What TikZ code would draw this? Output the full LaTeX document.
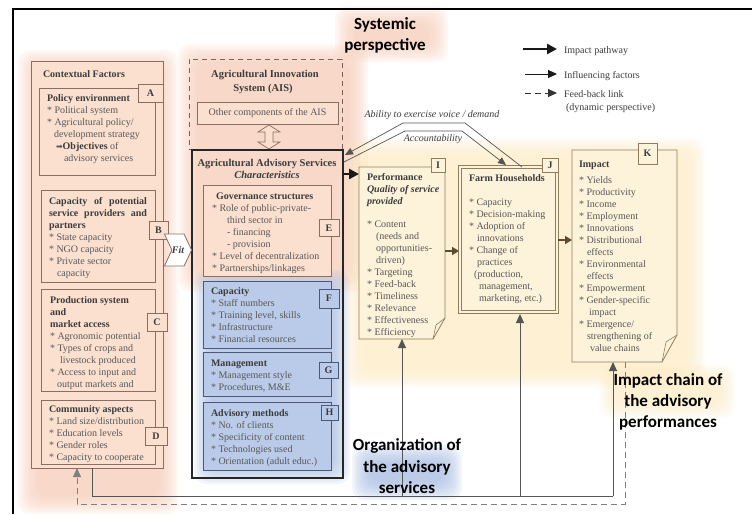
\documentclass[tikz,border=0pt]{standalone}
\usepackage{fontspec}
\setmainfont{Liberation Serif}
\newfontfamily\djv{DejaVu Sans}
\newfontfamily\calfont{Carlito}
\usetikzlibrary{calc,arrows.meta,shapes.symbols}
\definecolor{ctxFill}{HTML}{FBE0D0}
\definecolor{ctxLine}{HTML}{8A6E62}
\definecolor{orGlow}{HTML}{F8CDB6}
\definecolor{blFill}{HTML}{B9CBE8}
\definecolor{blLine}{HTML}{475A78}
\definecolor{blGlow}{HTML}{A3BAE2}
\definecolor{yeFill}{HTML}{FDF2DA}
\definecolor{yeLine}{HTML}{8F7E5E}
\definecolor{yeGlow}{HTML}{FDECC4}
\definecolor{txt}{HTML}{585858}
\definecolor{hd}{HTML}{3C3C3C}
\definecolor{brArrow}{HTML}{5E4B30}
\definecolor{lnGray}{HTML}{555555}
\newcommand{\glowbox}[5]{%
  \foreach \k in {0,...,7}{%
    \fill[#1, opacity=0.14, rounded corners=12pt] ($(#2,#3)+(\k*2.5,\k*2.5)$) rectangle ($(#4,#5)-(\k*2.5,\k*2.5)$);
  }}
\tikzset{
  zsep/.style={inner sep=0pt, outer sep=0pt},
  txtblock/.style={zsep, anchor=north west, align=left, text=txt, font=\fontsize{10}{12}\selectfont},
  hdtxt/.style={zsep, anchor=base, text=hd, font=\bfseries\fontsize{10.5}{12}\selectfont},
  ctxbox/.style={zsep, anchor=north west, draw=ctxLine, fill=ctxFill, line width=0.8pt},
  blbox/.style={zsep, anchor=north west, draw=blLine, fill=blFill, line width=0.8pt},
  tagbox/.style={zsep, line width=0.8pt, font=\bfseries\fontsize{10}{12}\selectfont, text=hd},
  bigtxt/.style={zsep, anchor=base, text=black, font=\calfont\bfseries\fontsize{17}{21}\selectfont},
  legtxt/.style={zsep, anchor=base west, text=hd, font=\fontsize{10}{12}\selectfont},
  impactarrow/.style={line width=2.6pt, black!90, -{Triangle[length=10pt,width=10pt]}},
  inflarrow/.style={line width=0.9pt, lnGray, -{Triangle[length=9pt,width=8pt]}},
  infline/.style={line width=0.9pt, lnGray},
  fbarrow/.style={line width=0.9pt, black!50, dash pattern=on 6pt off 4pt, -{Triangle[length=9pt,width=8pt]}},
  voicearrow/.style={line width=0.7pt, lnGray, -{Triangle[length=8pt,width=7pt]}},
  brarrow/.style={line width=2pt, brArrow, -{Triangle[length=7pt,width=8pt]}},
}
\begin{document}
\begin{tikzpicture}[x=1pt,y=-1pt]
\useasboundingbox (0,0) rectangle (752,514);
\fill[white] (0,0) rectangle (752,514);
% glows
\glowbox{orGlow}{18}{50}{178}{514}
\glowbox{orGlow}{178}{44}{368}{292}
\glowbox{orGlow}{335}{6}{448}{62}
\glowbox{blGlow}{194}{270}{350}{484}
\glowbox{blGlow}{352}{445}{462}{500}
\glowbox{yeGlow}{345}{138}{705}{388}
\glowbox{yeGlow}{600}{365}{735}{418}
% frame
\draw[line width=1.5pt] (13,514) -- (13,9) -- (752,9);

% ---------------- Contextual factors
\node[ctxbox, minimum width=132pt, minimum height=407pt] (ctx) at (31,61) {};
\node[hdtxt, anchor=base west, font=\bfseries\fontsize{10}{12}\selectfont] (ctxT) at (43,77) {Contextual Factors};

\node[ctxbox, minimum width=116pt, minimum height=87pt] (boxA) at (39,88) {};
\node[tagbox, draw=ctxLine, fill=ctxFill, minimum width=25pt, minimum height=18pt] (tagA) at (150.5,93) {A};
\node[txtblock] (Atxt) at (47,95) {\textbf{\color{hd}Policy environment}\\
* Political system\\
* Agricultural policy/\\
\hspace*{7pt}development strategy\\
\hspace*{9pt}{\djv\fontsize{8}{12}\selectfont ➡}\textbf{\color{hd}Objectives} of\\
\hspace*{17pt}advisory services};

\node[ctxbox, minimum width=114pt, minimum height=92pt] (boxB) at (41,190) {};
\node[tagbox, draw=ctxLine, fill=ctxFill, minimum width=19pt, minimum height=18pt] (tagB) at (158.5,230) {B};
\node[txtblock] (Btxt) at (49,197) {\textbf{\color{hd}\hbox to 98pt{Capacity\hfill of\hfill potential}}\\
\textbf{\color{hd}\hbox to 98pt{service\hfill providers\hfill and}}\\
\textbf{\color{hd}partners}\\
* State capacity\\
* NGO capacity\\
* Private sector\\
\hspace*{8pt}capacity};

\node[ctxbox, minimum width=114pt, minimum height=102pt] (boxC) at (41,289) {};
\node[tagbox, draw=ctxLine, fill=ctxFill, minimum width=20pt, minimum height=18pt] (tagC) at (157,322) {C};
\node[txtblock] (Ctxt) at (50,297) {\textbf{\color{hd}Production system}\\
\textbf{\color{hd}and}\\
\textbf{\color{hd}market access}\\
* Agronomic potential\\
* Types of crops and\\
\hspace*{10pt}livestock produced\\
* Access to input and\\
\hspace*{7pt}output markets and};

\node[ctxbox, minimum width=114pt, minimum height=64pt] (boxD) at (41,400) {};
\node[txtblock] (Dtxt) at (49,406) {\textbf{\color{hd}Community aspects}\\
* Land size/distribution\\
* Education levels\\
* Gender roles\\
* Capacity to cooperate};
\node[tagbox, draw=ctxLine, fill=ctxFill, minimum width=22pt, minimum height=18pt] (tagD) at (156,436) {D};

% ---------------- AIS
\node[zsep, anchor=north west, draw=ctxLine!90!black, dash pattern=on 5pt off 4pt, line width=0.8pt, minimum width=153pt, minimum height=90pt] (ais) at (189,59) {};
\node[hdtxt] (aisT1) at (265,77) {Agricultural Innovation};
\node[hdtxt] (aisT2) at (263,91) {System (AIS)};
\node[ctxbox, minimum width=141pt, minimum height=22pt, text=txt, font=\fontsize{10}{12}\selectfont] (other) at (197,102) {Other components of the AIS};
\draw[ctxLine, line width=0.7pt, fill=ctxFill] (269,125) -- (280,132) -- (273,132) -- (273,142) -- (280,142) -- (269,149) -- (258,142) -- (265,142) -- (265,132) -- (258,132) -- cycle;

% ---------------- AAS
\node[zsep, anchor=north west, draw=black!85, line width=1.6pt, minimum width=151pt, minimum height=328pt] (aas) at (192,150) {};
\node[hdtxt] (aasT1) at (267,166) {Agricultural Advisory Services};
\node[hdtxt] (aasT2) at (267,178) {\itshape Characteristics};

\node[ctxbox, minimum width=128pt, minimum height=91pt] (boxE) at (203,185) {};
\node[tagbox, draw=ctxLine, fill=ctxFill, minimum width=20pt, minimum height=17pt] (tagE) at (329,228) {E};
\node[txtblock] (Etxt) at (212,193) {\hspace*{4pt}\textbf{\color{hd}Governance structures}\\
* Role of public-private-\\
\hspace*{15pt}third sector in\\
\hspace*{15pt}- financing\\
\hspace*{15pt}- provision\\
* Level of decentralization\\
* Partnerships/linkages};

\node[blbox, minimum width=128pt, minimum height=67pt] (boxF) at (203,281) {};
\node[tagbox, draw=blLine, fill=blFill, minimum width=20pt, minimum height=19pt] (tagF) at (329,298.5) {F};
\node[txtblock] (Ftxt) at (211,288) {\textbf{\color{hd}Capacity}\\
* Staff numbers\\
* Training level, skills\\
* Infrastructure\\
* Financial resources};

\node[blbox, minimum width=128pt, minimum height=44pt] (boxG) at (203,352) {};
\node[tagbox, draw=blLine, fill=blFill, minimum width=19pt, minimum height=16pt] (tagG) at (328.5,370) {G};
\node[txtblock] (Gtxt) at (211,360) {\textbf{\color{hd}Management}\\
* Management style\\
* Procedures, M\&E};

\node[blbox, minimum width=128pt, minimum height=68pt] (boxH) at (203,402) {};
\node[tagbox, draw=blLine, fill=blFill, minimum width=17pt, minimum height=15pt] (tagH) at (329.5,412.5) {H};
\node[txtblock] (Htxt) at (211,410) {\textbf{\color{hd}Advisory methods}\\
* No. of clients\\
* Specificity of content\\
* Technologies used\\
* Orientation (adult educ.)};

% Fit
\node[zsep, signal, signal to=east, signal from=west, signal pointer angle=130, draw=ctxLine, fill=white, line width=0.8pt, minimum width=24pt, minimum height=32pt, font=\bfseries\itshape\fontsize{10}{12}\selectfont, text=hd] (fit) at (178,250) {Fit};

% ---------------- Performance I
\node[zsep, anchor=north west, minimum width=86pt, minimum height=172pt] (perfI) at (359,167) {};
\draw[yeLine, fill=yeFill, line width=0.8pt] (perfI.north west) -- (perfI.north east) -- ($(perfI.south east)+(0,-21)$) -- ($(perfI.south east)+(-12,0)$) -- (perfI.south west) -- cycle;
\draw[yeLine, line width=0.6pt] ($(perfI.south east)+(0,-21)$) -- ($(perfI.south east)+(-9,-14)$) -- ($(perfI.south east)+(-12,0)$);
\node[tagbox, draw=yeLine, fill=yeFill, minimum width=14pt, minimum height=14pt] (tagI) at (438,165) {I};
\node[txtblock] (Itxt) at (367,173) {\textbf{\color{hd}Performance}\\
\textbf{\itshape\color{hd}Quality of service}\\
\textbf{\itshape\color{hd}provided}\\[11pt]
* Content\\
\hspace*{9pt}(needs and\\
\hspace*{9pt}opportunities-\\
\hspace*{9pt}driven)\\
* Targeting\\
* Feed-back\\
* Timeliness\\
* Relevance\\
* Effectiveness\\
* Efficiency};

% ---------------- Farm households J
\node[zsep, anchor=north west, draw=yeLine, double=yeFill, double distance=2.2pt, line width=0.7pt, fill=yeFill, minimum width=97pt, minimum height=145pt] (farmJ) at (460,167) {};
\node[tagbox, draw=yeLine, fill=yeFill, minimum width=16pt, minimum height=14pt] (tagJ) at (550,165) {J};
\node[txtblock] (Jtxt) at (469,175) {\textbf{\color{hd}Farm Households}\\[12pt]
* Capacity\\
* Decision-making\\
* Adoption of\\
\hspace*{8pt}innovations\\
* Change of\\
\hspace*{8pt}practices\\
\hspace*{5pt}(production,\\
\hspace*{10pt}management,\\
\hspace*{10pt}marketing, etc.)};

% ---------------- Impact K
\node[zsep, anchor=north west, minimum width=105pt, minimum height=212pt] (impK) at (572,150) {};
\draw[yeLine, fill=yeFill, line width=0.8pt] (impK.north west) -- (impK.north east) -- ($(impK.south east)+(0,-27)$) -- ($(impK.south east)+(-15,0)$) -- (impK.south west) -- cycle;
\draw[yeLine, line width=0.6pt] ($(impK.south east)+(0,-27)$) -- ($(impK.south east)+(-11,-20)$) -- ($(impK.south east)+(-15,0)$);
\node[tagbox, draw=yeLine, fill=yeFill, minimum width=19pt, minimum height=21pt] (tagK) at (647.5,153.5) {K};
\node[txtblock] (Ktxt) at (579,161) {\textbf{\color{hd}Impact}\\[4pt]
* Yields\\
* Productivity\\
* Income\\
* Employment\\
* Innovations\\
* Distributional\\
\hspace*{8pt}effects\\
* Environmental\\
\hspace*{8pt}effects\\
* Empowerment\\
* Gender-specific\\
\hspace*{10pt}impact\\
* Emergence/\\
\hspace*{8pt}strengthening of\\
\hspace*{11pt}value chains};

% ---------------- impact chain arrows
\draw[impactarrow] ($(aas.north east)+(0,24)$) -- ($(perfI.north west)+(0,7)$);
\draw[brarrow] ($(perfI.north east)+(0,84)$) -- ($(farmJ.north west)+(-1,84)$);
\draw[brarrow] ($(farmJ.north east)+(1,73)$) -- ($(impK.north west)+(0,90)$);

% voice / accountability
\draw[voicearrow] ($(farmJ.north west)+(62,0)$) -- (465,123) -- (403,123) -- ($(aas.north east)+(2,5)$);
\draw[voicearrow] ($(aas.north east)+(1,12)$) -- (405,131) -- (462,131) -- ($(farmJ.north west)+(46,-2)$);
\node[zsep, anchor=base, text=hd, font=\itshape\fontsize{10}{12}\selectfont] (voiceT) at (432,117) {Ability to exercise voice / demand};
\node[zsep, anchor=base, text=hd, font=\itshape\fontsize{10}{12}\selectfont] (accT) at (433,141) {Accountability};

% influencing factors from context
\coordinate (ctxdrop) at ($(ctx.south west)+(61,0)$);
\coordinate (corner1) at (92,496);
\coordinate (toI) at (402,496);
\coordinate (toJ) at (520,496);
\coordinate (toK) at (613,496);
\draw[infline] (ctxdrop) -- (corner1) -- (toK);
\draw[inflarrow] (toI) -- (toI |- perfI.south);
\draw[inflarrow] (toJ) -- ($(toJ |- farmJ.south)+(0,2)$);
\draw[inflarrow] (toK) -- (toK |- impK.south);

% feedback
\coordinate (kdrop) at ($(impK.south west)+(53,0)$);
\coordinate (fb1) at (625,504);
\coordinate (fb2) at (77,504);
\draw[fbarrow] (kdrop) -- (fb1) -- (fb2) -- ($(ctx.south west)+(46,0)$);

% ---------------- legend
\coordinate (lg1a) at (523,49); \coordinate (lg1b) at (557,49);
\coordinate (lg2a) at (525,74); \coordinate (lg2b) at (557,74);
\coordinate (lg3a) at (525,93); \coordinate (lg3b) at (557,93);
\draw[impactarrow] (lg1a) -- (lg1b);
\draw[inflarrow, black!90] (lg2a) -- (lg2b);
\draw[fbarrow, black!80] (lg3a) -- (lg3b);
\node[legtxt] (leg1) at (564,53) {Impact pathway};
\node[legtxt] (leg2) at (564,78) {Influencing factors};
\node[legtxt] (leg3) at (564,97) {Feed-back link};
\node[legtxt] (leg4) at (566,110) {(dynamic perspective)};

% ---------------- big labels
\node[bigtxt] (sys1) at (385,29) {Systemic};
\node[bigtxt] (sys2) at (385,50) {perspective};
\node[bigtxt] (org1) at (407,450) {Organization of};
\node[bigtxt] (org2) at (407,472) {the advisory};
\node[bigtxt] (org3) at (407,493) {services};
\node[bigtxt] (imp1) at (668,385) {Impact chain of};
\node[bigtxt] (imp2) at (668,406) {the advisory};
\node[bigtxt] (imp3) at (668,427) {performances};
\end{tikzpicture}
\end{document}
